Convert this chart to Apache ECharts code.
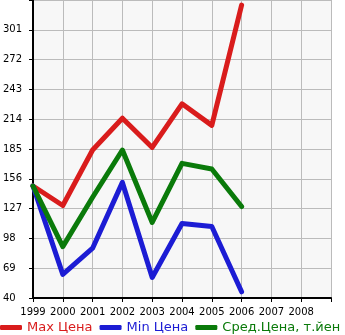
<!DOCTYPE html>
<html><head><meta charset="utf-8">
<script src="https://cdn.jsdelivr.net/npm/echarts@6/dist/echarts.min.js"></script>
<style>html,body{margin:0;padding:0;background:#fff}#c{width:345px;height:335px}</style>
</head><body><div id="c"></div>
<script>
const years = [1999, 2000, 2001, 2002, 2003, 2004, 2005, 2006];
const maxPrice = [149, 130, 184, 215, 186.5, 229, 208, 325];
const minPrice = [149, 63, 88.5, 152.5, 60, 112.5, 109.5, 46];
const avgPrice = [149, 90, 138, 184, 113.5, 171, 165.5, 129];
const seriesNames = ['Max Цена', 'Min Цена', 'Сред.Цена, т.йен'];
const colors = ['#d91c1c', '#1c1cd4', '#0a7a0a'];
const yTicks = [40, 69, 98, 127, 156, 185, 214, 243, 272, 301];

const pairs = arr => years.map((y, i) => [y, arr[i]]);
const chart = echarts.init(document.getElementById('c'), null, {renderer: 'canvas'});
chart.setOption({
  animation: false,
  grid: {left: 31, right: 14, top: 0, bottom: 37, show: true, backgroundColor: '#f7f7f7', borderWidth: 0},
  legend: {
    left: 0, top: 321, padding: 0, itemWidth: 22, itemHeight: 5, itemGap: 7,
    icon: 'roundRect',
    textStyle: {fontSize: 13, fontFamily: 'DejaVu Sans'},
    data: seriesNames.map((n, i) => ({name: n, textStyle: {color: colors[i]}}))
  },
  xAxis: {
    type: 'value', min: 1999, max: 2009, interval: 1,
    axisLine: {show: true, onZero: false, lineStyle: {color: '#000', width: 2}},
    axisTick: {show: true, length: 4, lineStyle: {color: '#000', width: 1}},
    splitLine: {show: true, lineStyle: {color: '#bbbbbb', width: 1}},
    axisLabel: {
      fontSize: 10, fontFamily: 'DejaVu Sans', color: '#000', margin: 9,
      formatter: v => v < 2009 ? String(v) : ''
    }
  },
  yAxis: {
    type: 'value', min: yTicks[0], max: 330, interval: yTicks[1] - yTicks[0],
    axisLine: {show: true, lineStyle: {color: '#000', width: 2}},
    axisTick: {show: true, length: 4, lineStyle: {color: '#000', width: 1}},
    splitLine: {show: true, lineStyle: {color: '#bbbbbb', width: 1}},
    axisLabel: {
      fontSize: 10, fontFamily: 'DejaVu Sans', color: '#000', margin: 30, align: 'left',
      verticalAlign: 'middle', padding: [0, 0, 2, 0],
      formatter: v => yTicks.includes(v) ? String(v) : ''
    }
  },
  series: [maxPrice, minPrice, avgPrice].map((arr, i) => ({
    name: seriesNames[i], type: 'line', data: pairs(arr), showSymbol: false, symbol: 'none',
    itemStyle: {color: colors[i]},
    lineStyle: {color: colors[i], width: 5, cap: 'round', join: 'round'}
  }))
});
</script></body></html>
